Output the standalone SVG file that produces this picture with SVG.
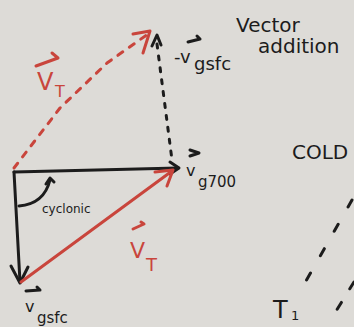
<svg xmlns="http://www.w3.org/2000/svg" width="354" height="327" viewBox="0 0 354 327">
<style>
.k{stroke:#1c1c1c;fill:none;stroke-width:3;stroke-linecap:round;stroke-linejoin:round}
.r{stroke:#c9453c;fill:none;stroke-width:3;stroke-linecap:round;stroke-linejoin:round}
.kt{fill:#1c1c1c;font-family:"DejaVu Sans",sans-serif}
.rt{fill:#c9453c;font-family:"DejaVu Sans",sans-serif}
</style>
<rect width="354" height="327" fill="#dddbd7"/>
<g id="connectors">
  <path class="k" d="M14 172 L178 168"/>
  <path class="k" d="M170 162 L179 168 L170 174"/>
  <path class="k" stroke-width="2.5" d="M14 172 L20 282"/>
  <path class="k" stroke-width="2.5" d="M11 266 L20 283 L28 267"/>
  <path class="r" d="M21 282 L172 171"/>
  <path class="r" d="M155 172 L173 170 L167 186"/>
  <path class="r" stroke-dasharray="6 8" d="M14 168 L60 108 L107 63 L148 34"/>
  <path class="r" d="M133 34 L150 31 L143 53"/>
  <path class="k" stroke-width="2" stroke-dasharray="4 8" d="M157 44 L172 160"/>
  <path class="k" stroke-width="2" d="M152 46 L157 35 L161 45"/>
  <path class="k" stroke-width="2" d="M19 206 Q44 204 50 180"/>
  <path class="k" stroke-width="2" d="M46 184 L50 178 L54 182"/>
  <path class="k" stroke-width="2.5" stroke-dasharray="8 20" d="M352 200 L298 295"/>
  <path class="k" stroke-width="2.5" stroke-dasharray="8 16" d="M354 282 L333 316"/>
</g>
<g id="title">
  <text class="kt" x="236" y="32" font-size="20">Vector</text>
  <text class="kt" x="258" y="53" font-size="20">addition</text>
</g>
<g id="label-vt-top">
  <path class="r" stroke-width="2.5" d="M36 66 L58 58 L52 53"/>
  <text class="rt" x="37" y="90" font-size="24">V</text>
  <text class="rt" x="55" y="97" font-size="16">T</text>
</g>
<g id="label-neg-vgsfc">
  <path class="k" stroke-width="2" d="M188 42 L200 39 L197 36"/>
  <text class="kt" x="174" y="63" font-size="18">-v</text>
  <text class="kt" x="194" y="70" font-size="18">gsfc</text>
</g>
<g id="label-vg700">
  <path class="k" stroke-width="2" d="M190 150 L199 153 L190 156"/>
  <text class="kt" x="186" y="176" font-size="16">v</text>
  <text class="kt" x="198" y="187" font-size="15">g700</text>
</g>
<g id="label-cyclonic">
  <text class="kt" x="42" y="213" font-size="12">cyclonic</text>
</g>
<g id="label-vt-bottom">
  <path class="r" stroke-width="2.5" d="M133 229 L144 224 L141 222"/>
  <text class="rt" x="130" y="258" font-size="22">V</text>
  <text class="rt" x="146" y="271" font-size="18">T</text>
</g>
<g id="label-vgsfc">
  <path class="k" stroke-width="2" d="M26 291 L40 290 L37 287"/>
  <text class="kt" x="25" y="312" font-size="16">v</text>
  <text class="kt" x="37" y="323" font-size="15">gsfc</text>
</g>
<g id="label-cold">
  <text class="kt" x="292" y="159" font-size="20">COLD</text>
</g>
<g id="label-t1">
  <text class="kt" x="273" y="318" font-size="24">T</text>
  <text class="kt" x="291" y="320" font-size="13">1</text>
</g>
</svg>
